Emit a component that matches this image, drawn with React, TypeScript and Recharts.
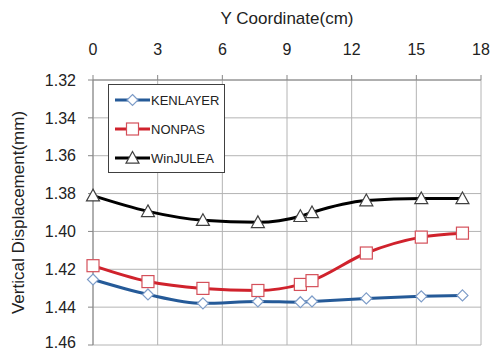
import { CartesianGrid, Line, LineChart, XAxis, YAxis } from 'recharts';

const positions = [0, 2.55, 5.1, 7.65, 9.62, 10.16, 12.68, 15.23, 17.14];
const kenlayer = [1.4254, 1.4333, 1.438, 1.437, 1.4374, 1.437, 1.4354, 1.4343, 1.4338];
const nonpas = [1.4181, 1.4265, 1.4301, 1.4312, 1.428, 1.426, 1.4114, 1.403, 1.4009];
const winjulea = [1.3811, 1.3894, 1.3941, 1.3952, 1.392, 1.39, 1.3837, 1.3826, 1.3826];
const xTicks = [0, 3, 6, 9, 12, 15, 18];
const yTicks = [1.32, 1.34, 1.36, 1.38, 1.4, 1.42, 1.44, 1.46];

const data = positions.map((y, i) => ({ y, kenlayer: kenlayer[i], nonpas: nonpas[i], winjulea: winjulea[i] }));

const FONT = 'Liberation Sans, Arial, sans-serif';

function Diamond({ cx, cy }: any) {
  const r = 5.5;
  return <path d={`M${cx},${cy - r}L${cx + r},${cy}L${cx},${cy + r}L${cx - r},${cy}Z`} fill="#fff" stroke="#7d9cc8" strokeWidth={1.2} />;
}

function Square({ cx, cy }: any) {
  const r = 6;
  return <rect x={cx - r} y={cy - r} width={r * 2} height={r * 2} fill="#fff" stroke="#d4505a" strokeWidth={1.2} />;
}

function Triangle({ cx, cy }: any) {
  const r = 6.5;
  return <path d={`M${cx},${cy - r}L${cx + r},${cy + r * 0.8}L${cx - r},${cy + r * 0.8}Z`} fill="#fff" stroke="#404040" strokeWidth={1.2} />;
}

const legendItems = [
  { name: 'KENLAYER', color: '#255a98', Marker: Diamond },
  { name: 'NONPAS', color: '#d0222c', Marker: Square },
  { name: 'WinJULEA', color: '#000', Marker: Triangle },
];

function LegendBox() {
  return (
    <svg width={118} height={90} style={{ display: 'block' }}>
      <rect x={0.5} y={0.5} width={116} height={88} fill="#fff" stroke="#404040" strokeWidth={1} />
      {legendItems.map((it, i) => {
        const cy = 16 + i * 29;
        return (
          <g key={it.name}>
            <line x1={7} x2={42} y1={cy} y2={cy} stroke={it.color} strokeWidth={3} />
            <it.Marker cx={24.5} cy={cy} />
            <text x={43} y={cy + 5} fontSize={13} fontFamily={FONT} fill="#222">{it.name}</text>
          </g>
        );
      })}
    </svg>
  );
}

export default function App() {
  return (
    <div style={{ position: 'absolute', left: 0, top: 0, width: 491, height: 351, background: '#fff' }}>
      <LineChart width={491} height={351} data={data} margin={{ top: 0, right: 10, bottom: 6, left: 0 }}>
        <CartesianGrid stroke="#b4b4b4" strokeWidth={1} />
        <XAxis
          dataKey="y"
          type="number"
          orientation="top"
          domain={[0, 18]}
          ticks={xTicks}
          height={80}
          stroke="#868686"
          tickSize={5}
          tickMargin={20}
          tick={{ fill: '#222', fontSize: 16, fontFamily: FONT }}
          label={{ value: 'Y Coordinate(cm)', position: 'insideTop', offset: 12, fill: '#222', fontSize: 17, fontFamily: FONT }}
        />
        <YAxis
          type="number"
          reversed
          domain={[1.32, 1.46]}
          ticks={yTicks}
          width={93}
          stroke="#868686"
          tickSize={5}
          tickMargin={12}
          tickFormatter={(v: number) => v.toFixed(2)}
          tick={{ fill: '#222', fontSize: 16, fontFamily: FONT }}
          label={{ value: 'Vertical Displacement(mm)', angle: -90, position: 'insideLeft', offset: 18, style: { textAnchor: 'middle' }, fill: '#222', fontSize: 17, fontFamily: FONT }}
        />
        <Line type="monotone" dataKey="kenlayer" stroke="#255a98" strokeWidth={3} dot={<Diamond />} isAnimationActive={false} />
        <Line type="monotone" dataKey="nonpas" stroke="#d0222c" strokeWidth={3} dot={<Square />} isAnimationActive={false} />
        <Line type="monotone" dataKey="winjulea" stroke="#000" strokeWidth={3} dot={<Triangle />} isAnimationActive={false} />
      </LineChart>
      <div style={{ position: 'absolute', left: 108, top: 84 }}>
        <LegendBox />
      </div>
    </div>
  );
}
